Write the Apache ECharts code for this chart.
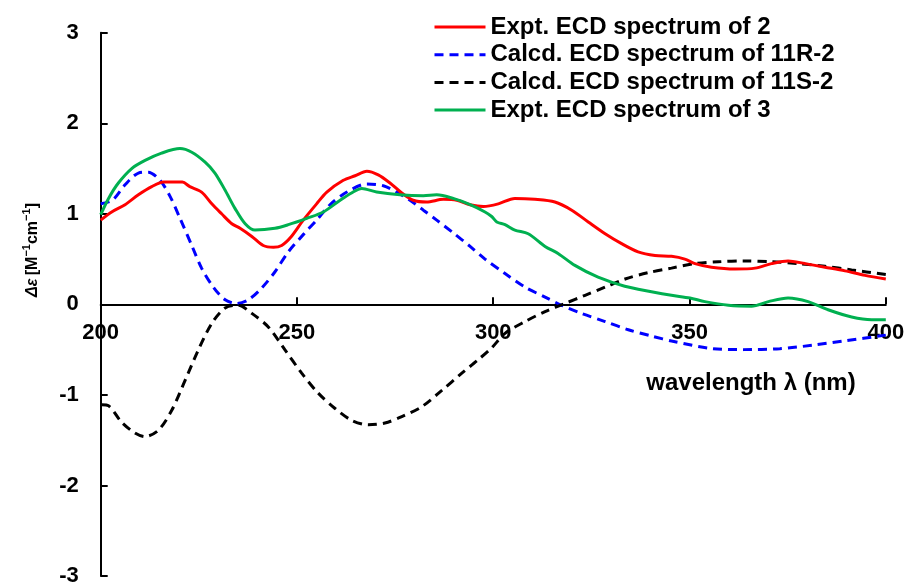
<!DOCTYPE html>
<html>
<head>
<meta charset="utf-8">
<script src="https://cdn.jsdelivr.net/npm/echarts@6/dist/echarts.min.js"></script>
<style>html,body{margin:0;padding:0;background:#fff}#c{width:907px;height:584px}</style>
</head>
<body>
<div id="c"></div>
<script>
// ---- data ----
const seriesNames = ['Expt. ECD spectrum of 2', 'Calcd. ECD spectrum of 11R-2', 'Calcd. ECD spectrum of 11S-2', 'Expt. ECD spectrum of 3'];
const xTicks = [200, 250, 300, 350, 400];
const yTicks = [-3, -2, -1, 0, 1, 2, 3];

const exp2X = [200, 202.8, 206.2, 209.6, 213, 216, 220.8, 222.7, 225.7, 228.3, 230.8, 233.4, 235.5, 238.5, 241.4, 244, 246.1, 248.4, 251.6, 255, 257.6, 261.8, 264.8, 267.8, 270.7, 273.7, 276.7, 279.6, 283, 287.3, 290.7, 294.1, 297.5, 301.3, 305.5, 310.6, 315.7, 320, 324.2, 328.5, 332.7, 336.9, 341.2, 345.4, 348.8, 351.4, 355.6, 361.6, 366.7, 370.9, 375.1, 379.4, 384.5, 389.6, 394.7, 400];
const exp2Y = [0.93, 1.02, 1.10, 1.21, 1.30, 1.35, 1.35, 1.30, 1.24, 1.11, 1.00, 0.89, 0.84, 0.75, 0.65, 0.63, 0.65, 0.74, 0.93, 1.11, 1.24, 1.37, 1.42, 1.47, 1.43, 1.34, 1.23, 1.15, 1.13, 1.16, 1.15, 1.10, 1.08, 1.11, 1.17, 1.16, 1.13, 1.04, 0.91, 0.78, 0.67, 0.58, 0.54, 0.53, 0.50, 0.45, 0.41, 0.39, 0.40, 0.45, 0.48, 0.45, 0.41, 0.37, 0.32, 0.28];

const r2X = [200, 203, 206.2, 209.6, 212.1, 215.1, 217.7, 220.2, 223.2, 225.7, 228.7, 231.7, 234.6, 237.6, 241, 244.4, 247.8, 251.6, 255, 258.4, 262.7, 267.8, 272, 275.4, 278.8, 282.2, 285.6, 289.8, 294.1, 297.9, 303, 308.1, 313.2, 317.4, 322.5, 328.5, 334.4, 340.3, 346, 356, 363.7, 373, 381.5, 390, 400];
const r2Y = [1.11, 1.15, 1.32, 1.45, 1.46, 1.37, 1.19, 0.95, 0.65, 0.40, 0.19, 0.05, 0.01, 0.05, 0.18, 0.36, 0.58, 0.77, 0.93, 1.10, 1.24, 1.33, 1.31, 1.24, 1.15, 1.04, 0.93, 0.79, 0.64, 0.50, 0.34, 0.19, 0.08, -0.01, -0.10, -0.19, -0.28, -0.35, -0.41, -0.49, -0.50, -0.49, -0.45, -0.40, -0.34];

const s2X = [200.3, 202, 205.3, 208.7, 211.3, 214.7, 218.1, 221.5, 224.9, 228.3, 231.7, 235, 238.5, 242.7, 246.9, 251.2, 255.4, 259.7, 263.9, 268.2, 272.4, 276.7, 281.8, 286.9, 292, 296.2, 299.6, 303, 308.1, 313.2, 318.3, 323.4, 328.5, 333.6, 339.5, 345.4, 351.4, 357.3, 364.1, 370.9, 377.7, 384.5, 391.3, 400];
const s2Y = [-1.11, -1.12, -1.30, -1.42, -1.46, -1.39, -1.17, -0.84, -0.50, -0.21, -0.04, -0.01, -0.10, -0.25, -0.50, -0.76, -0.98, -1.15, -1.28, -1.33, -1.31, -1.24, -1.13, -0.95, -0.76, -0.61, -0.48, -0.32, -0.19, -0.08, 0.01, 0.10, 0.19, 0.28, 0.35, 0.40, 0.45, 0.47, 0.48, 0.47, 0.45, 0.42, 0.38, 0.33];

const exp3X = [200, 202, 204.5, 207.9, 211.3, 215.5, 220.2, 223.2, 226.6, 229.1, 231.7, 234.2, 236.8, 239.3, 244.4, 247.8, 252.5, 256.7, 261, 263.9, 266.5, 270.3, 276.2, 282.2, 285.6, 289.8, 294.1, 297.9, 299.6, 300.9, 303, 305.5, 308.9, 313.2, 316.6, 320.8, 326.7, 333.5, 340.3, 345.4, 350.1, 353.9, 359.9, 365.8, 370.1, 375.1, 380.2, 385.3, 391.3, 396.4, 400];
const exp3Y = [0.99, 1.17, 1.34, 1.50, 1.59, 1.67, 1.72, 1.68, 1.57, 1.45, 1.26, 1.06, 0.89, 0.82, 0.84, 0.88, 0.95, 1.02, 1.15, 1.23, 1.28, 1.24, 1.21, 1.20, 1.21, 1.17, 1.10, 1.02, 0.97, 0.91, 0.88, 0.82, 0.78, 0.64, 0.56, 0.43, 0.30, 0.20, 0.14, 0.10, 0.07, 0.03, -0.01, -0.02, 0.03, 0.07, 0.03, -0.06, -0.14, -0.17, -0.17];

const zip = (xs, ys) => xs.map((x, i) => [x, ys[i]]);
const FONT = '"Liberation Sans", Arial, sans-serif';

const GRID_TOP = 32.7, GRID_BOTTOM = 8, H = 584;
const plotH = H - GRID_TOP - GRID_BOTTOM;
const zeroOffset = -plotH / 2; // move x-axis from bottom up to value 0 (range -3..3)

const chart = echarts.init(document.getElementById('c'), null, {renderer: 'canvas'});
chart.setOption({
  animation: false,
  backgroundColor: '#fff',
  grid: {left: 100.7, right: 21.2, top: GRID_TOP, bottom: GRID_BOTTOM, containLabel: false, outerBoundsMode: 'none'},
  legend: {
    orient: 'vertical', left: 433, top: 15, padding: 0,
    itemWidth: 51, itemHeight: 14, itemGap: 3.7,
    itemStyle: {opacity: 0},
    lineStyle: {width: 3},
    data: seriesNames,
    textStyle: {fontFamily: FONT, fontWeight: 'bold', fontSize: 24, color: '#000', lineHeight: 24}
  },
  xAxis: {
    type: 'value', min: 200, max: 400, interval: 50, position: 'bottom', offset: zeroOffset,
    axisLine: {onZero: false, lineStyle: {color: '#000', width: 2}},
    axisTick: {inside: true, length: 7, lineStyle: {color: '#000', width: 2}},
    axisLabel: {margin: 18, fontFamily: FONT, fontWeight: 'bold', fontSize: 22, color: '#000',
      formatter: v => xTicks.includes(v) ? String(v) : ''},
    splitLine: {show: false}
  },
  yAxis: {
    type: 'value', min: -3, max: 3, interval: 1,
    axisLine: {show: true, lineStyle: {color: '#000', width: 2}},
    axisTick: {show: true, inside: true, length: 7, lineStyle: {color: '#000', width: 2}},
    axisLabel: {margin: 22, fontFamily: FONT, fontWeight: 'bold', fontSize: 22, color: '#000',
      formatter: v => yTicks.includes(v) ? String(v) : ''},
    splitLine: {show: false}
  },
  graphic: [
    {type: 'text', x: 751, y: 383, style: {text: 'wavelength λ (nm)', font: 'bold 24px ' + FONT, fill: '#000', textAlign: 'center', textVerticalAlign: 'middle'}},
    {type: 'text', x: 31, y: 250, rotation: Math.PI / 2,
      style: {text: '{i|Δε} {n|[M}{s|−1}{n|cm}{s|−1}{n|]}', fill: '#000', textAlign: 'center', textVerticalAlign: 'middle',
        rich: {
          i: {fontStyle: 'italic', fontWeight: 'bold', fontSize: 16, fontFamily: FONT, fill: '#000', lineHeight: 20, verticalAlign: 'bottom'},
          n: {fontWeight: 'bold', fontSize: 16, fontFamily: FONT, fill: '#000', lineHeight: 20, verticalAlign: 'bottom'},
          s: {fontWeight: 'bold', fontSize: 11, fontFamily: FONT, fill: '#000', lineHeight: 20, verticalAlign: 'top'}
        }}}
  ],
  series: [
    {name: seriesNames[0], type: 'line', data: zip(exp2X, exp2Y), symbol: 'none', smooth: 0.3, z: 4,
      lineStyle: {color: '#FF0000', width: 3}, itemStyle: {color: '#FF0000'}},
    {name: seriesNames[1], type: 'line', data: zip(r2X, r2Y), symbol: 'none', smooth: 0.3, z: 3,
      lineStyle: {color: '#0000FF', width: 3, type: [9, 6]}, itemStyle: {color: '#0000FF'}},
    {name: seriesNames[2], type: 'line', data: zip(s2X, s2Y), symbol: 'none', smooth: 0.3, z: 3,
      lineStyle: {color: '#000000', width: 3, type: [9, 6]}, itemStyle: {color: '#000000'}},
    {name: seriesNames[3], type: 'line', data: zip(exp3X, exp3Y), symbol: 'none', smooth: 0.3, z: 4,
      lineStyle: {color: '#00B050', width: 3}, itemStyle: {color: '#00B050'}}
  ]
});
</script>
</body>
</html>
